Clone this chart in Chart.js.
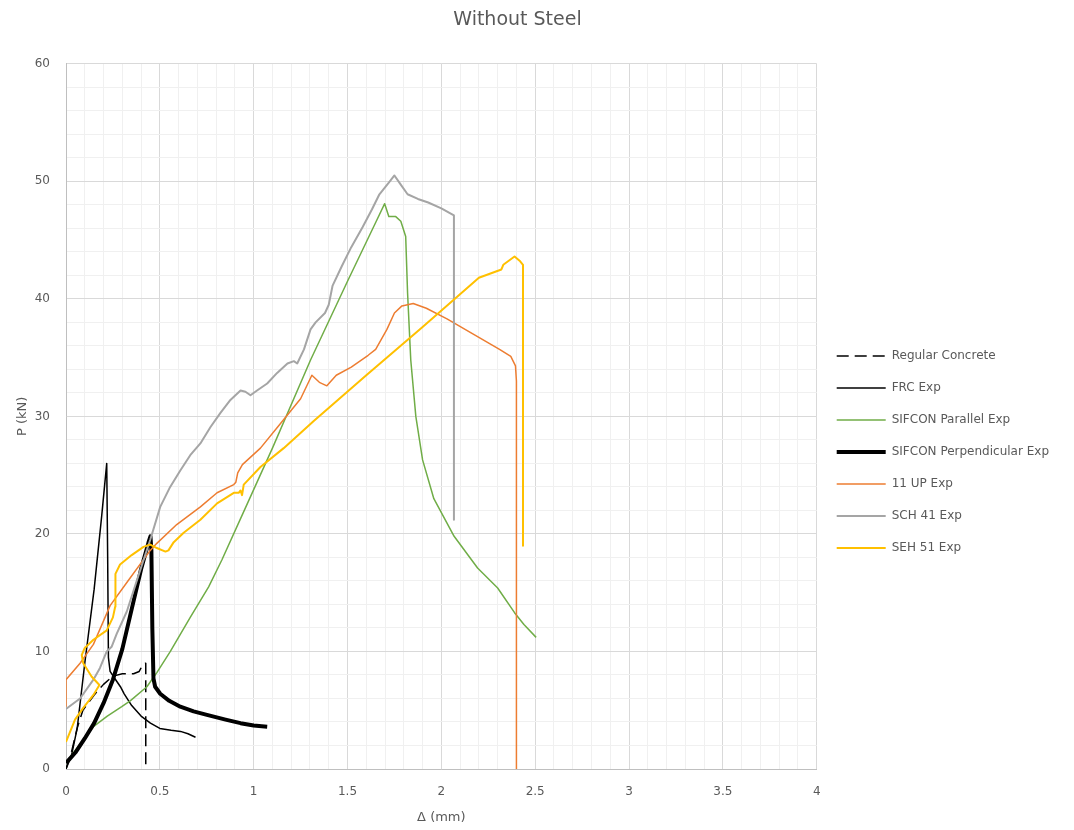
<!DOCTYPE html>
<html>
<head>
<meta charset="utf-8">
<title>Without Steel</title>
<script src="https://cdn.jsdelivr.net/npm/chart.js@4.4.0/dist/chart.umd.min.js"></script>
<style>
  html, body { margin: 0; padding: 0; background: #ffffff; }
  #wrap { width: 1074px; height: 830px; }
</style>
</head>
<body>
<div id="wrap"><canvas id="chart" width="1074" height="830"></canvas></div>
<script>
// Load–deflection curves, Δ in mm and P in kN.
const regularDelta = [0, 0.03, 0.06, 0.09, 0.15, 0.20, 0.25, 0.30, 0.36, 0.39, 0.41, 0.425, 0.425];
const regularLoad  = [0, 1.5, 3.5, 5.0, 6.3, 7.2, 7.9, 8.1, 8.1, 8.3, 8.9, 9.0, 0];

const frcDelta = [0, 0.03, 0.06, 0.10, 0.15, 0.19, 0.217, 0.222, 0.226, 0.235, 0.26, 0.29, 0.31, 0.35, 0.40, 0.45, 0.50, 0.56, 0.61, 0.65, 0.69];
const frcLoad  = [0, 1.2, 3.5, 9.0, 15.3, 21.5, 26.0, 18.0, 9.5, 8.3, 7.7, 7.0, 6.4, 5.4, 4.5, 3.9, 3.45, 3.3, 3.2, 3.0, 2.7];

const parallelDelta = [0, 0.05, 0.146, 0.22, 0.297, 0.342, 0.431, 0.484, 0.556, 0.662, 0.76, 0.831, 0.95, 1.1, 1.303, 1.5, 1.65, 1.698, 1.72, 1.757, 1.784, 1.81, 1.82, 1.837, 1.864, 1.9, 1.96, 2.068, 2.193, 2.3, 2.39, 2.44, 2.505];
const parallelLoad  = [0.5, 1.6, 3.6, 4.5, 5.3, 5.8, 7.0, 8.2, 10.0, 12.9, 15.5, 17.8, 22.0, 27.3, 34.8, 41.5, 46.5, 48.1, 47.0, 47.0, 46.6, 45.3, 40.5, 34.8, 30.0, 26.3, 23.0, 19.8, 17.1, 15.4, 13.3, 12.3, 11.2];

const perpDelta = [0, 0.05, 0.10, 0.15, 0.20, 0.25, 0.30, 0.35, 0.40, 0.44, 0.45, 0.455, 0.46, 0.466, 0.475, 0.502, 0.55, 0.609, 0.68, 0.751, 0.85, 0.93, 1.0, 1.072];
const perpLoad  = [0.5, 1.4, 2.6, 3.9, 5.6, 7.6, 10.2, 13.6, 17.0, 19.3, 19.8, 18.6, 12.0, 7.7, 7.0, 6.4, 5.8, 5.3, 4.9, 4.6, 4.2, 3.9, 3.7, 3.6];

const up11Delta = [0, 0, 0.075, 0.146, 0.235, 0.33, 0.449, 0.484, 0.59, 0.716, 0.805, 0.894, 0.905, 0.915, 0.94, 1.036, 1.143, 1.25, 1.31, 1.35, 1.39, 1.44, 1.52, 1.61, 1.65, 1.71, 1.75, 1.79, 1.85, 1.92, 2.03, 2.17, 2.31, 2.37, 2.395, 2.40, 2.40];
const up11Load  = [5.3, 7.6, 9.0, 10.6, 13.9, 16.0, 18.6, 19.2, 20.8, 22.3, 23.5, 24.2, 24.4, 25.2, 25.9, 27.3, 29.4, 31.5, 33.5, 32.9, 32.6, 33.5, 34.2, 35.2, 35.7, 37.4, 38.8, 39.4, 39.6, 39.2, 38.3, 37.0, 35.7, 35.1, 34.3, 33.0, 0];

const sch41Delta = [0, 0.075, 0.146, 0.181, 0.217, 0.243, 0.27, 0.324, 0.395, 0.449, 0.502, 0.555, 0.609, 0.662, 0.716, 0.77, 0.823, 0.876, 0.93, 0.956, 0.983, 1.018, 1.072, 1.125, 1.18, 1.214, 1.232, 1.268, 1.303, 1.33, 1.38, 1.40, 1.42, 1.47, 1.52, 1.58, 1.63, 1.67, 1.72, 1.75, 1.78, 1.82, 1.875, 1.93, 2.0, 2.067, 2.067];
const sch41Load  = [5.1, 6.0, 7.6, 8.6, 10.0, 10.4, 11.5, 13.4, 16.9, 19.5, 22.3, 24.0, 25.4, 26.7, 27.7, 29.1, 30.3, 31.4, 32.2, 32.1, 31.8, 32.2, 32.8, 33.7, 34.5, 34.7, 34.5, 35.7, 37.4, 38.0, 38.8, 39.5, 41.1, 42.8, 44.4, 46.1, 47.6, 48.9, 49.9, 50.5, 49.8, 48.9, 48.5, 48.2, 47.7, 47.1, 21.2];

const seh51Delta = [0, 0.048, 0.092, 0.146, 0.178, 0.137, 0.092, 0.084, 0.10, 0.146, 0.217, 0.25, 0.262, 0.262, 0.265, 0.288, 0.35, 0.413, 0.449, 0.484, 0.53, 0.546, 0.574, 0.627, 0.716, 0.805, 0.894, 0.92, 0.93, 0.938, 0.947, 1.036, 1.16, 1.32, 1.6, 1.9, 2.2, 2.32, 2.33, 2.39, 2.42, 2.435, 2.435];
const seh51Load  = [2.3, 4.2, 5.2, 6.3, 7.15, 7.85, 9.0, 9.7, 10.3, 11.0, 11.8, 12.9, 13.8, 15.2, 16.6, 17.4, 18.2, 18.9, 19.1, 18.8, 18.5, 18.6, 19.3, 20.1, 21.2, 22.6, 23.5, 23.5, 23.7, 23.3, 24.2, 25.7, 27.3, 29.6, 33.5, 37.6, 41.8, 42.5, 42.9, 43.6, 43.2, 42.9, 19.0];

const seriesNames = ['Regular Concrete', 'FRC Exp', 'SIFCON Parallel Exp', 'SIFCON Perpendicular Exp', '11 UP Exp', 'SCH 41 Exp', 'SEH 51 Exp'];

const TEXT = '#595959';
const GRID_MAJOR = '#d9d9d9';
const GRID_MINOR = '#f0f0f0';
const FONT = 'DejaVu Sans';

function pairs(xs, ys) { return xs.map((x, i) => ({ x: x, y: ys[i] })); }
function onStep(v, step) { return Math.abs(v / step - Math.round(v / step)) < 1e-6; }

function series(i, xs, ys, color, width, dash) {
  return {
    label: seriesNames[i],
    data: pairs(xs, ys),
    borderColor: color,
    backgroundColor: color,
    borderWidth: width,
    borderDash: dash || [],
    showLine: true,
    fill: false,
    pointRadius: 0,
    pointHoverRadius: 0,
    tension: 0,
    borderJoinStyle: 'round',
    order: 6 - i            // later series are painted on top
  };
}

// Legend samples take the stroke of their line (colour, width, dash).
function lineLegendLabels(chart) {
  const items = Chart.defaults.plugins.legend.labels.generateLabels(chart);
  items.forEach(it => {
    const ds = chart.data.datasets[it.datasetIndex];
    it.strokeStyle = ds.borderColor;
    it.fillStyle = ds.borderColor;
    it.lineWidth = ds.borderWidth;
    it.lineDash = ds.borderDash;
    it.lineCap = 'butt';
  });
  return items;
}

// Small layout nudges for the title and the legend column.
const boxOffsets = {
  id: 'boxOffsets',
  afterLayout(chart) {
    const t = chart.titleBlock;
    if (t) { t.left -= 12; t.right -= 12; }
    const lg = chart.legend;
    if (lg) { lg.top += 37; lg.bottom += 37; }
  }
};

new Chart(document.getElementById('chart'), {
  type: 'scatter',
  data: {
    datasets: [
      series(0, regularDelta, regularLoad, '#000000', 1.5, [12, 6]),
      series(1, frcDelta, frcLoad, '#000000', 1.5),
      series(2, parallelDelta, parallelLoad, '#70ad47', 1.5),
      series(3, perpDelta, perpLoad, '#000000', 4),
      series(4, up11Delta, up11Load, '#ed7d31', 1.5),
      series(5, sch41Delta, sch41Load, '#a5a5a5', 2),
      series(6, seh51Delta, seh51Load, '#ffc000', 2)
    ]
  },
  options: {
    responsive: false,
    animation: false,
    devicePixelRatio: 1,
    layout: { padding: { left: 0, right: 15, top: 0, bottom: 0 } },
    plugins: {
      title: {
        display: true,
        text: 'Without Steel',
        color: TEXT,
        font: { family: FONT, size: 19, weight: 'normal' },
        padding: { top: 9, bottom: 32 }
      },
      legend: {
        position: 'right',
        align: 'center',
        labels: {
          usePointStyle: true,
          pointStyle: 'line',
          pointStyleWidth: 49,
          padding: 20,
          color: TEXT,
          font: { family: FONT, size: 12 },
          generateLabels: lineLegendLabels,
          sort: (a, b) => a.datasetIndex - b.datasetIndex
        }
      },
      tooltip: { enabled: false }
    },
    scales: {
      x: {
        type: 'linear',
        min: 0,
        max: 4,
        ticks: {
          stepSize: 0.1,
          maxTicksLimit: 100,
          autoSkip: false,
          maxRotation: 0,
          padding: 16,
          color: TEXT,
          font: { family: FONT, size: 12 },
          callback: v => onStep(v, 0.5) ? String(Math.round(v * 2) / 2) : ''
        },
        grid: {
          drawTicks: false,
          lineWidth: 1,
          color: ctx => (ctx.tick && onStep(ctx.tick.value, 0.5)) ? GRID_MAJOR : GRID_MINOR
        },
        border: { color: '#bfbfbf', width: 1 },
        title: {
          display: true,
          text: 'Δ (mm)',
          color: TEXT,
          font: { family: FONT, size: 13 },
          padding: { top: 0, bottom: 5 }
        },
        afterFit: s => { s.height = 61; }
      },
      y: {
        type: 'linear',
        min: 0,
        max: 60,
        ticks: {
          stepSize: 2,
          maxTicksLimit: 100,
          autoSkip: false,
          padding: 16,
          color: TEXT,
          font: { family: FONT, size: 12 },
          callback: v => onStep(v, 10) ? String(Math.round(v)) : ''
        },
        grid: {
          drawTicks: false,
          lineWidth: 1,
          color: ctx => (ctx.tick && onStep(ctx.tick.value, 10)) ? GRID_MAJOR : GRID_MINOR
        },
        border: { color: '#bfbfbf', width: 1 },
        title: {
          display: true,
          text: 'P (kN)',
          color: TEXT,
          font: { family: FONT, size: 13 },
          padding: { top: 15, bottom: 0 }
        },
        afterFit: s => { s.width = 66; }
      }
    }
  },
  plugins: [boxOffsets]
});
</script>
</body>
</html>
